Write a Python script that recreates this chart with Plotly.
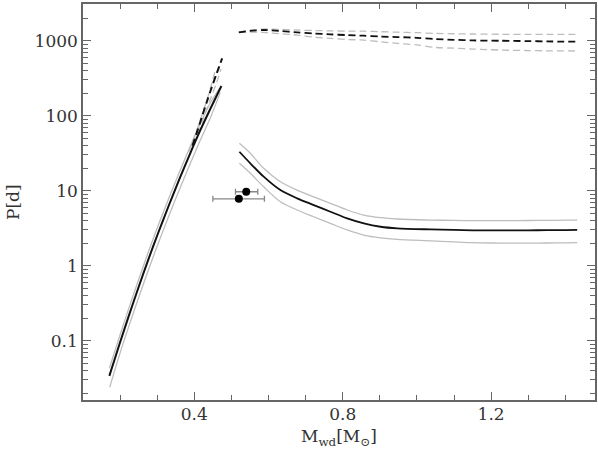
import plotly.graph_objects as go

# ---- left branch (low-mass WDs) ----
left_x = [0.171, 0.20, 0.223, 0.25, 0.277, 0.30, 0.331, 0.36, 0.389, 0.416, 0.443, 0.473]
left_mid = [0.034, 0.0955, 0.211, 0.521, 1.245, 2.53, 6.31, 14.35, 31.6, 63.7, 123, 249]
left_hi_x = [0.171, 0.20, 0.223, 0.25, 0.277, 0.30, 0.331, 0.36, 0.389, 0.416, 0.443, 0.468]
left_hi = [0.043, 0.12, 0.266, 0.655, 1.57, 3.18, 7.9, 17.8, 39, 78, 148, 232]
left_lo_x = [0.172, 0.20, 0.223, 0.25, 0.277, 0.30, 0.331, 0.36, 0.389, 0.416, 0.443, 0.470]
left_lo = [0.024, 0.069, 0.153, 0.377, 0.90, 1.83, 4.57, 10.4, 23.0, 47, 93, 205]

leftd_x = [0.395, 0.407, 0.42, 0.434, 0.447, 0.46, 0.475]
leftd_mid = [40, 60, 95, 155, 240, 363, 582]
leftd_hi_x = [0.385, 0.40, 0.415, 0.43, 0.445, 0.455]
leftd_hi = [33, 52, 85, 140, 245, 380]
leftd_lo_x = [0.40, 0.415, 0.43, 0.445, 0.46, 0.472]
leftd_lo = [42, 68, 110, 175, 275, 420]

# ---- right branch, short periods ----
right_x = [0.5215, 0.551, 0.587, 0.632, 0.677, 0.722, 0.767, 0.812, 0.857, 0.902, 0.947,
           1.037, 1.1, 1.15, 1.2, 1.25, 1.3, 1.35, 1.4, 1.432]
right_mid = [33.1, 23.2, 15.4, 10.2, 7.92, 6.44, 5.25, 4.28, 3.67, 3.31, 3.15,
             3.05, 3.0, 2.97, 2.96, 2.96, 2.97, 2.98, 2.99, 3.0]
right_hi = [42.9, 31.6, 19.9, 13.2, 10.2, 8.3, 6.79, 5.54, 4.74, 4.37, 4.2,
            4.07, 4.02, 4.0, 4.0, 4.0, 4.01, 4.03, 4.05, 4.07]
right_lo = [23.2, 17.1, 11.3, 7.13, 5.54, 4.5, 3.67, 3.0, 2.57, 2.36, 2.25,
            2.15, 2.08, 2.03, 2.01, 2.0, 2.0, 2.01, 2.02, 2.03]

# ---- right branch, long periods (dashed) ----
rightd_x = [0.52, 0.55, 0.587, 0.63, 0.677, 0.72, 0.767, 0.81, 0.857, 0.9, 0.947,
            1.0, 1.046, 1.1, 1.15, 1.226, 1.3, 1.35, 1.432]
rightd_mid = [1290, 1350, 1390, 1350, 1294, 1250, 1217, 1190, 1167, 1140, 1120,
              1095, 1054, 1030, 1010, 1000, 990, 980, 970]
rightd_hi = [1300, 1380, 1432, 1420, 1390, 1370, 1355, 1345, 1340, 1320, 1300,
             1280, 1256, 1240, 1230, 1220, 1218, 1216, 1216]
rightd_lo = [1290, 1300, 1290, 1240, 1191, 1120, 1076, 1040, 1020, 970, 923,
             880, 817, 795, 775, 751, 740, 735, 730]

# ---- observed systems ----
obs_m = [0.540, 0.520]
obs_p = [9.7, 7.8]
obs_m_err_plus = [0.031, 0.069]
obs_m_err_minus = [0.029, 0.070]

# ---- axis ticks ----
x_major = [0.4, 0.8, 1.2]
x_major_text = ["0.4", "0.8", "1.2"]
x_minor = [0.2, 0.3, 0.5, 0.6, 0.7, 0.9, 1.0, 1.1, 1.3, 1.4]
y_major = [0.1, 1, 10, 100, 1000]
y_major_text = ["0.1", "1", "10", "100", "1000"]
y_minor = [m * d for d in [0.01, 0.1, 1, 10, 100, 1000] for m in range(2, 10)]

X_RANGE = [0.1, 1.48]
Y_RANGE = [-1.79, 3.49]

GRAY = "#bdbdbd"
BLACK = "#111111"
DASH = "7px,4px"
FONT = "DejaVu Serif"
AX = "#666666"
TXT = "#333333"

fig = go.Figure()

def add_line(x, y, color, width, dash=None):
    fig.add_trace(go.Scatter(x=x, y=y, mode="lines",
                             line=dict(color=color, width=width, dash=dash, shape="spline",
                                       smoothing=0.8),
                             showlegend=False, hoverinfo="skip"))

add_line(left_hi_x, left_hi, GRAY, 1.3)
add_line(left_lo_x, left_lo, GRAY, 1.3)
add_line(leftd_hi_x, leftd_hi, GRAY, 1.3, DASH)
add_line(leftd_lo_x, leftd_lo, GRAY, 1.3, DASH)
add_line(left_x, left_mid, BLACK, 2)
add_line(leftd_x, leftd_mid, BLACK, 2, DASH)

add_line(right_x, right_hi, GRAY, 1.3)
add_line(right_x, right_lo, GRAY, 1.3)
add_line(right_x, right_mid, BLACK, 1.8)

add_line(rightd_x, rightd_hi, GRAY, 1.3, DASH)
add_line(rightd_x, rightd_lo, GRAY, 1.3, DASH)
add_line(rightd_x, rightd_mid, BLACK, 1.8, DASH)

fig.add_trace(go.Scatter(
    x=obs_m, y=obs_p, mode="markers",
    marker=dict(color="black", size=8),
    error_x=dict(type="data", array=obs_m_err_plus, arrayminus=obs_m_err_minus,
                 symmetric=False, color="#888888", thickness=1.3, width=3),
    showlegend=False, hoverinfo="skip"))

fig.update_layout(
    width=598, height=449,
    margin=dict(l=83, r=3, t=4, b=49),
    paper_bgcolor="white", plot_bgcolor="white",
    font=dict(family=FONT, size=17, color=TXT),
    showlegend=False,
)

tick_common = dict(ticks="inside", ticklen=8, tickcolor=AX, tickwidth=1,
                   showgrid=False, zeroline=False, automargin=False,
                   showline=True, linecolor=AX, linewidth=1.5, mirror="allticks")
minor_common = dict(ticks="inside", ticklen=5, tickcolor=AX, tickwidth=1)

fig.update_layout(
    xaxis=dict(range=X_RANGE, tickvals=x_major, ticktext=x_major_text,
               minor=dict(tickvals=x_minor, **minor_common),
               ticklabelstandoff=-2, **tick_common),
    yaxis=dict(type="log", range=Y_RANGE, tickvals=y_major, ticktext=y_major_text,
               minor=dict(tickvals=y_minor, **minor_common),
               **tick_common),
)

fig.add_annotation(text="M<sub>wd</sub>[M<sub>⊙</sub>]", xref="paper", yref="paper",
                   x=0.5, y=0, xanchor="center", yanchor="middle", yshift=-37,
                   showarrow=False, font=dict(size=17, family=FONT, color=TXT))
fig.add_annotation(text="P[d]", xref="paper", yref="paper",
                   x=0, y=0.5, xanchor="center", yanchor="middle", xshift=-70,
                   textangle=-90, showarrow=False, font=dict(size=17, family=FONT, color=TXT))

fig.write_html("out.html", include_plotlyjs=True, full_html=True,
               config={"displayModeBar": False, "responsive": False},
               post_script="document.body.style.margin='0';document.body.style.overflow='hidden';")
